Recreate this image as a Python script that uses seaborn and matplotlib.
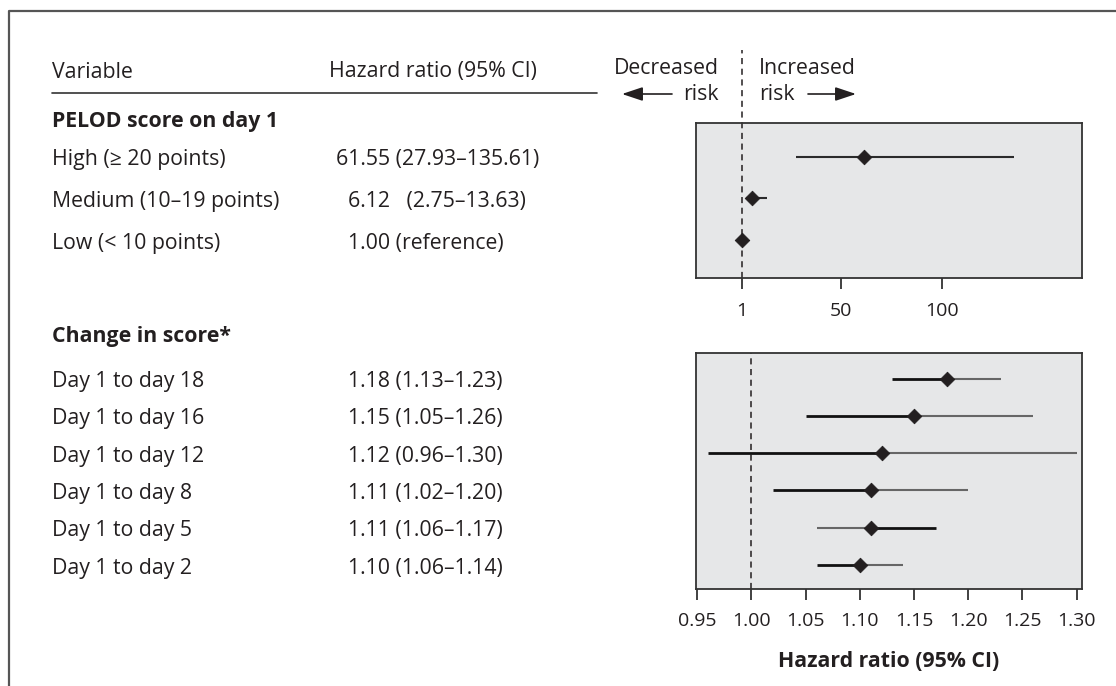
import numpy as np
import pandas as pd
import matplotlib
matplotlib.use("Agg")
import matplotlib.pyplot as plt
import matplotlib.transforms as mtransforms
from matplotlib.lines import Line2D
from matplotlib.patches import FancyArrowPatch
import seaborn as sns

# PELOD score on day 1
pelod_labels = ["High (\u2265 20 points)", "Medium (10\u201319 points)", "Low (< 10 points)"]
pelod_hr = [61.55, 6.12, 1.00]
pelod_lo = [27.93, 2.75, 1.00]
pelod_hi = [135.61, 13.63, 1.00]
pelod_text = ["61.55 (27.93\u2013135.61)", "6.12   (2.75\u201313.63)", "1.00 (reference)"]
pelod_ticks = [1, 50, 100]

# change in score
change_labels = ["Day 1 to day 18", "Day 1 to day 16", "Day 1 to day 12",
                 "Day 1 to day 8", "Day 1 to day 5", "Day 1 to day 2"]
change_hr = [1.18, 1.15, 1.12, 1.11, 1.11, 1.10]
change_lo = [1.13, 1.05, 0.96, 1.02, 1.06, 1.06]
change_hi = [1.23, 1.26, 1.30, 1.20, 1.17, 1.14]
change_ticks = [0.95, 1.00, 1.05, 1.10, 1.15, 1.20, 1.25, 1.30]

sns.set_theme(style="white")
plt.rcParams["font.family"] = ["Open Sans", "DejaVu Sans"]

INK = "#231f20"
PANEL = "#e6e7e8"
FS = 15.3
TFS = 14

W, H = 1116, 686
fig = plt.figure(figsize=(W / 100, H / 100), dpi=100)


def fx(px):
    return px / W


def fy(py):
    return 1 - py / H


ax1 = fig.add_axes([fx(696), fy(278), fx(386), 155 / H])
ax2 = fig.add_axes([fx(696), fy(588.5), fx(386), 236 / H])

df1 = pd.DataFrame({"hr": pelod_hr, "lo": pelod_lo, "hi": pelod_hi,
                    "row": np.arange(len(pelod_hr))})
df2 = pd.DataFrame({"hr": change_hr, "lo": change_lo, "hi": change_hi,
                    "row": np.arange(len(change_hr))})

# top panel
ax1.hlines(df1["row"], df1["lo"], df1["hi"], color="#2b2b2b", lw=1.5, zorder=2)
sns.scatterplot(data=df1, x="hr", y="row", marker="D", color=INK, s=55,
                edgecolor=INK, ax=ax1, zorder=3, legend=False)
ax1.set_xlim(-21.8, 169.5)
ax1.set_ylim(2.91, -0.81)
ax1.axvline(1, ymin=0, ymax=(278 - 50) / 155, color=INK, lw=1.1,
            ls=(0, (4, 3)), clip_on=False, zorder=1)
ax1.set_xticks(pelod_ticks)
ax1.set_xticklabels([str(t) for t in pelod_ticks])
ax1.set_xlabel("")

# bottom panel, left half of CI drawn darker
dark = [True, True, True, True, False, True]
for r, lo, hr, hi, d in zip(df2["row"], df2["lo"], df2["hr"], df2["hi"], dark):
    c1, c2 = ("#111111", "#666666") if d else ("#666666", "#111111")
    w1, w2 = (2.0, 1.5) if d else (1.5, 2.0)
    ax2.hlines(r, lo, hr, color=c1, lw=w1, zorder=2)
    ax2.hlines(r, hr, hi, color=c2, lw=w2, zorder=2)
sns.scatterplot(data=df2, x="hr", y="row", marker="D", color=INK, s=55,
                edgecolor=INK, ax=ax2, zorder=3, legend=False)
ax2.set_xlim(0.9488, 1.3049)
ax2.set_ylim(5.63, -0.7)
ax2.axvline(1.0, color=INK, lw=1.1, ls=(0, (4, 3)), zorder=1)
ax2.set_xticks(change_ticks)
ax2.set_xticklabels([f"{t:.2f}" for t in change_ticks])
ax2.set_xlabel("Hazard ratio (95% CI)", fontsize=FS, fontweight="bold",
               color=INK, labelpad=15)

for ax in (ax1, ax2):
    ax.set_facecolor(PANEL)
    ax.set_ylabel("")
    ax.set_yticks([])
    for s in ax.spines.values():
        s.set_color("#333333")
        s.set_linewidth(1.3)
    ax.tick_params(axis="x", direction="out", length=8, width=1.3,
                   color="#333333", labelsize=TFS, labelcolor=INK, pad=9,
                   bottom=True)

# left-hand table
ft = fig.transFigure
LX = 52
fig.text(fx(LX), fy(72), "Variable", fontsize=FS, color=INK, va="center")
fig.text(fx(329), fy(72), "Hazard ratio (95% CI)", fontsize=FS, color=INK, va="center")
fig.add_artist(Line2D([fx(52), fx(597)], [fy(92.5), fy(92.5)], color="#333333",
                      lw=1.2, transform=ft))
fig.text(fx(LX), fy(122), "PELOD score on day 1", fontsize=FS, fontweight="bold",
         color=INK, va="center")
fig.text(fx(LX), fy(337), "Change in score*", fontsize=FS, fontweight="bold",
         color=INK, va="center")

down = mtransforms.ScaledTranslation(0, -3 / 100, fig.dpi_scale_trans)
tr1 = mtransforms.blended_transform_factory(ft, ax1.transData) + down
tr2 = mtransforms.blended_transform_factory(ft, ax2.transData) + down
for r, lab, txt in zip(df1["row"], pelod_labels, pelod_text):
    fig.text(fx(LX), r, lab, fontsize=FS, color=INK, va="center", transform=tr1)
    x0 = 336 if r == 0 else 348
    fig.text(fx(x0), r, txt, fontsize=FS, color=INK, va="center", transform=tr1)
for r, lab, hr, lo, hi in zip(df2["row"], change_labels, change_hr, change_lo, change_hi):
    fig.text(fx(LX), r, lab, fontsize=FS, color=INK, va="center", transform=tr2)
    fig.text(fx(348), r, f"{hr:.2f} ({lo:.2f}\u2013{hi:.2f})", fontsize=FS,
             color=INK, va="center", transform=tr2)

# risk direction labels
fig.text(fx(719), fy(68), "Decreased", fontsize=FS, color=INK, ha="right", va="center")
fig.text(fx(719), fy(94), "risk", fontsize=FS, color=INK, ha="right", va="center")
fig.text(fx(759), fy(68), "Increased", fontsize=FS, color=INK, ha="left", va="center")
fig.text(fx(759), fy(94), "risk", fontsize=FS, color=INK, ha="left", va="center")
for x0, x1 in [(672, 622), (808, 856)]:
    fig.add_artist(FancyArrowPatch((fx(x0), fy(94)), (fx(x1), fy(94)),
                                   transform=ft, arrowstyle="-|>,head_length=0.9,head_width=0.3",
                                   mutation_scale=14, color=INK, lw=1.2,
                                   shrinkA=0, shrinkB=0))

# outer frame (left and top edges)
fig.add_artist(Line2D([fx(9), fx(9), fx(W + 5)], [fy(H + 5), fy(11), fy(11)],
                      color="#555555", lw=1.6, transform=ft))

fig.savefig("out.png", dpi=100, facecolor="white")
plt.close(fig)
